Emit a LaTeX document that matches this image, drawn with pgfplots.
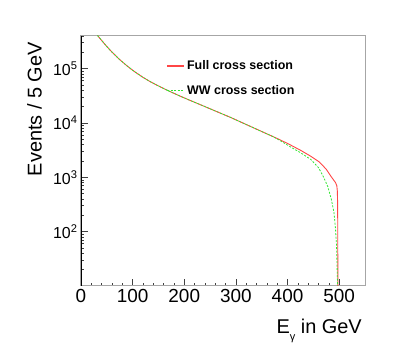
\documentclass[border=0pt]{standalone}
\usepackage{fontspec}
\setmainfont{Liberation Sans}
\usepackage{pgfplots}
\pgfplotsset{compat=1.18}
\definecolor{fullred}{RGB}{255,70,70}
\definecolor{wwgreen}{RGB}{50,230,50}

\begin{document}
\begin{tikzpicture}
  \path[use as bounding box] (-81bp,-72bp) rectangle (326bp,286bp);
  \begin{axis}[
    at={(0,0)}, anchor=south west,
    width=285bp, height=250bp, scale only axis,
    xmin=0, xmax=552,
    ymode=log, log basis y=10, ymin=10, ymax=4e5,
    xtick={0,100,200,300,400,500}, minor x tick num=4,
    ytick={100,1000,10000,100000},
    yticklabels={10\textsuperscript{2},10\textsuperscript{3},10\textsuperscript{4},10\textsuperscript{5}},
    minor ytick={20,30,40,50,60,70,80,90,
                 200,300,400,500,600,700,800,900,
                 2000,3000,4000,5000,6000,7000,8000,9000,
                 20000,30000,40000,50000,60000,70000,80000,90000,
                 200000,300000,400000},
    /pgf/number format/assume math mode=true,
    tick align=inside, xtick pos=bottom, ytick pos=left,
    major tick length=7bp, minor tick length=3.5bp,
    tick style={black!75, line width=0.6bp},
    xticklabel style={font=\fontsize{19}{22}\selectfont},
    yticklabel style={font=\fontsize{16}{19}\selectfont},
    axis line style={gray!70, line width=1bp},
    clip=true,
    legend style={at={(rel axis cs:0.29,0.918)}, anchor=north west,
                  draw=none, fill=none,
                  font=\bfseries\fontsize{12.5}{14}\selectfont,
                  row sep=10bp, legend cell align=left},
    legend image code/.code={\draw[#1] (0bp,0bp) -- (17bp,0bp);},
  ]
    \addlegendimage{draw=fullred, line width=1.3bp}
    \addlegendentry{Full cross section}
    \addlegendimage{draw=wwgreen, line width=1.1bp, dash pattern=on 2bp off 1.5bp}
    \addlegendentry{WW cross section}
    \addplot[draw=fullred, line width=0.9bp, forget plot] table {
      x y
      32 409000
      40 331000
      50 256000
      60 202000
      75 146900
      90 110900
      105 86500
      120 69300
      135 57100
      150 48100
      170 38900
      190 31900
      210 26400
      230 22000
      250 18300
      270 15200
      290 12650
      310 10370
      330 8510
      350 6980
      370 5730
      385 4940
      405 3980
      425 3160
      445 2450
      462 1905
      475 1410
      484 1050
      489 900
      493 800
      495.5 700
      496.5 560
      497 350
      497.3 120
      497.5 8
    };
    \addplot[draw=wwgreen, line width=0.8bp, dash pattern=on 2bp off 1.5bp, forget plot] table {
      x y
      32 409000
      40 331000
      50 256000
      60 202000
      75 146900
      90 110900
      105 86500
      120 69300
      135 57100
      150 48100
      170 38900
      190 31900
      210 26400
      230 22000
      250 18300
      270 15200
      290 12650
      310 10370
      330 8510
      350 6980
      370 5730
      385 4800
      405 3670
      425 2850
      445 2140
      460 1510
      469 1050
      478 676
      485 389
      490 224
      493 112
      495 54
      496.3 17
      497.2 8
    };
    \draw[black, line width=0.8bp] (rel axis cs:0,1) -- (rel axis cs:0,0) -- (rel axis cs:1,0);
  \end{axis}
  \node[rotate=90, anchor=base east, font=\fontsize{20}{24}\selectfont, inner sep=0pt]
    at (-39.3bp,244bp) {Events / 5 GeV};
  \node[anchor=base east, font=\fontsize{20}{24}\selectfont, inner sep=0pt]
    at (281bp,-47.3bp) {E\raisebox{-0.35em}{\fontsize{11}{11}\selectfont γ} in GeV};
\end{tikzpicture}
\end{document}
